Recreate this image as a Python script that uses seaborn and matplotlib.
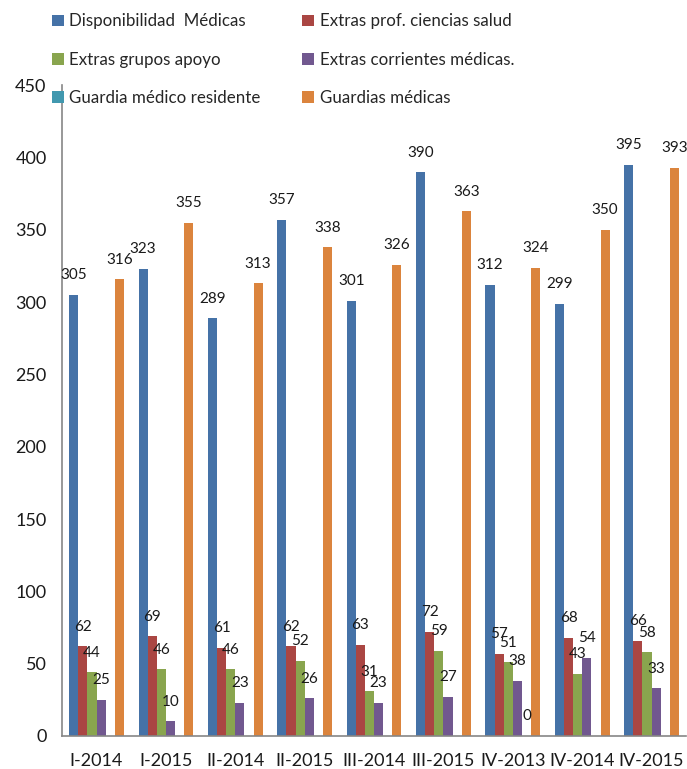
import numpy as np
import pandas as pd
import matplotlib
matplotlib.use("Agg")
import matplotlib.pyplot as plt
import seaborn as sns
from matplotlib.patches import Patch
from matplotlib.ticker import MultipleLocator, FixedLocator

categories = ["I-2014", "I-2015", "II-2014", "II-2015", "III-2014",
              "III-2015", "IV-2013", "IV-2014", "IV-2015"]

series_names = ["Disponibilidad  Médicas", "Extras prof. ciencias salud",
                "Extras grupos apoyo", "Extras corrientes médicas.",
                "Guardia médico residente", "Guardias médicas"]

disponibilidad = [305, 323, 289, 357, 301, 390, 312, 299, 395]
extras_prof = [62, 69, 61, 62, 63, 72, 57, 68, 66]
extras_apoyo = [44, 46, 46, 52, 31, 59, 51, 43, 58]
extras_corrientes = [25, 10, 23, 26, 23, 27, 38, 54, 33]
guardia_residente = [None, None, None, None, None, None, 0, None, None]
guardias_medicas = [316, 355, 313, 338, 326, 363, 324, 350, 393]

colors = ["#4572A7", "#AA4643", "#89A54E", "#71588F", "#4198AF", "#DB843D"]

all_series = [disponibilidad, extras_prof, extras_apoyo,
              extras_corrientes, guardia_residente, guardias_medicas]

rows = []
for name, vals in zip(series_names, all_series):
    for cat, v in zip(categories, vals):
        if v is not None:
            rows.append({"periodo": cat, "serie": name, "valor": v})
df = pd.DataFrame(rows)

sns.set_style("white")
plt.rcParams["font.family"] = ["Lato", "DejaVu Sans"]

fig = plt.figure(figsize=(6.87, 7.69), dpi=100)
ax = fig.add_axes([0.090, 0.043, 0.909, 0.846])

sns.barplot(data=df, x="periodo", y="valor", hue="serie",
            order=categories, hue_order=series_names, palette=colors,
            width=0.79, linewidth=0, saturation=1, ax=ax, legend=False)

for cont in ax.containers:
    ax.bar_label(cont, fmt="%d", padding=9, fontsize=11, color="#1a1a1a")

ax.set_ylim(0, 450)
ax.set_xlim(-0.5, len(categories) - 0.5)
ax.yaxis.set_major_locator(MultipleLocator(50))
ax.set_xlabel("")
ax.set_ylabel("")

ax.xaxis.set_minor_locator(FixedLocator(np.arange(0.5, len(categories) - 0.5, 1.0)))
ax.tick_params(axis="x", which="major", length=0, pad=12, labelsize=13, colors="#1a1a1a")
ax.tick_params(axis="x", which="minor", length=5, width=1.2, color="#868686", direction="out")
ax.tick_params(axis="y", which="major", length=5, width=1.2, color="#868686",
               direction="out", labelsize=13, labelcolor="#1a1a1a", pad=6)

for side in ["top", "right"]:
    ax.spines[side].set_visible(False)
for side in ["left", "bottom"]:
    ax.spines[side].set_color("#868686")
    ax.spines[side].set_linewidth(1.2)

# legend filled row by row across two columns
order = [0, 2, 4, 1, 3, 5]
handles = [Patch(facecolor=colors[i], edgecolor="none") for i in order]
labels = [series_names[i] for i in order]
fig.legend(handles, labels, loc="upper left", bbox_to_anchor=(0.058, 0.998),
           ncol=2, frameon=False, fontsize=12.2, handlelength=0.7, handleheight=0.7,
           handletextpad=0.35, labelspacing=1.32, columnspacing=2.45,
           borderaxespad=0.3)

fig.savefig("out.png", dpi=100)
